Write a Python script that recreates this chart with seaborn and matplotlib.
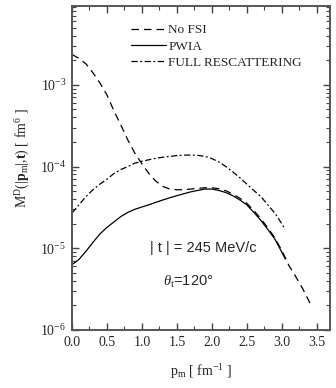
import numpy as np
import pandas as pd
import matplotlib
matplotlib.use('Agg')
import matplotlib.pyplot as plt
import seaborn as sns
from matplotlib.ticker import LogLocator, MultipleLocator

# momentum grid [fm^-1]
p_m = [0.0, 0.1, 0.2, 0.3, 0.4, 0.5, 0.6, 0.7, 0.8, 0.9, 1.0, 1.1, 1.2, 1.3,
       1.4, 1.5, 1.6, 1.7, 1.8, 1.9, 2.0, 2.1, 2.2, 2.3, 2.4, 2.5, 2.6, 2.7,
       2.8, 2.9, 3.0, 3.05]
p_m_nofsi_tail = [3.1, 3.2, 3.3, 3.42]

no_fsi = [2.35e-3, 2.1e-3, 1.8e-3, 1.4e-3, 1.05e-3, 7.5e-4, 4.8e-4, 3.2e-4,
          2.1e-4, 1.45e-4, 1.08e-4, 8.2e-5, 6.6e-5, 5.7e-5, 5.3e-5, 5.2e-5,
          5.2e-5, 5.3e-5, 5.4e-5, 5.5e-5, 5.5e-5, 5.35e-5, 5.05e-5, 4.6e-5,
          4.1e-5, 3.55e-5, 2.9e-5, 2.3e-5, 1.78e-5, 1.35e-5, 9.4e-6, 7.7e-6]
no_fsi_tail = [6.2e-6, 4.5e-6, 3.2e-6, 2.0e-6]

pwia = [6.3e-6, 7.3e-6, 9.2e-6, 1.18e-5, 1.5e-5, 1.8e-5, 2.1e-5, 2.45e-5,
        2.75e-5, 3.0e-5, 3.2e-5, 3.4e-5, 3.65e-5, 3.9e-5, 4.15e-5, 4.4e-5,
        4.65e-5, 4.9e-5, 5.1e-5, 5.3e-5, 5.3e-5, 5.1e-5, 4.8e-5, 4.4e-5,
        3.9e-5, 3.4e-5, 2.75e-5, 2.2e-5, 1.7e-5, 1.3e-5, 9.0e-6, 7.4e-6]

full_resc = [2.7e-5, 3.4e-5, 4.3e-5, 5.2e-5, 6.1e-5, 7.0e-5, 8.2e-5, 9.2e-5,
             1.0e-4, 1.1e-4, 1.16e-4, 1.21e-4, 1.26e-4, 1.3e-4, 1.33e-4,
             1.36e-4, 1.38e-4, 1.38e-4, 1.37e-4, 1.33e-4, 1.25e-4, 1.14e-4,
             1.0e-4, 8.6e-5, 7.3e-5, 6.1e-5, 5.1e-5, 4.3e-5, 3.4e-5, 2.7e-5,
             2.0e-5, 1.7e-5]

sns.set_style('ticks')
plt.rcParams['font.family'] = ['Liberation Serif', 'DejaVu Serif']
plt.rcParams['mathtext.fontset'] = 'custom'
plt.rcParams['mathtext.rm'] = 'Liberation Serif'
plt.rcParams['mathtext.it'] = 'Liberation Serif:italic'
plt.rcParams['mathtext.bf'] = 'Liberation Serif:bold'

fig = plt.figure(figsize=(3.36, 3.88), dpi=100)
ax = fig.add_axes([72 / 336, 58 / 388, 258 / 336, 324 / 388])

x_nofsi = p_m + p_m_nofsi_tail
y_nofsi = no_fsi + no_fsi_tail
sns.lineplot(x=x_nofsi, y=y_nofsi, ax=ax, color='black', lw=0.9,
             label='No FSI', sort=False)
sns.lineplot(x=p_m, y=pwia, ax=ax, color='black', lw=0.9,
             label='PWIA', sort=False)
sns.lineplot(x=p_m, y=full_resc, ax=ax, color='black', lw=0.9,
             label='FULL RESCATTERING', sort=False)
ax.lines[0].set_dashes([6, 4])
ax.lines[2].set_dashes([5, 2, 1.5, 2])

ax.set_yscale('log')
ax.set_xlim(0, 3.69)
ax.set_ylim(1e-6, 9.2e-3)
ax.xaxis.set_major_locator(MultipleLocator(0.5))
ax.xaxis.set_minor_locator(MultipleLocator(0.25))
ax.xaxis.set_major_formatter(matplotlib.ticker.FormatStrFormatter('%.1f'))
ax.yaxis.set_major_locator(LogLocator(base=10))
ax.yaxis.set_minor_locator(LogLocator(base=10, subs=np.arange(2, 10)))
ax.yaxis.set_minor_formatter(matplotlib.ticker.NullFormatter())

ax.tick_params(which='both', direction='in', top=True, right=True,
               labelsize=10, color='#444444', pad=4)
ax.tick_params(which='major', length=5, width=1)
ax.tick_params(which='minor', length=3, width=0.8)
for s in ax.spines.values():
    s.set_linewidth(1.4)
    s.set_color('#555555')

ax.set_xlabel(r'p$_{\rm m}$ [ fm$^{-1}$ ]', fontsize=10, labelpad=10)
ax.set_ylabel(r'M$^{\rm D}$(|$\mathbf{p}_{\rm m}$|,$\mathbf{t}$) [ fm$^{6}$ ]',
              fontsize=10)
ax.yaxis.set_label_coords(-0.155, 0.53)

ax.legend(loc='upper left', bbox_to_anchor=(0.21, 0.96), frameon=False,
          fontsize=9.5, handlelength=2.6, handletextpad=0.2,
          labelspacing=0.3, borderaxespad=0)

ax.text(0.508, 0.253, '| t | = 245 MeV/c', transform=ax.transAxes,
        ha='center', va='center', fontsize=10.5, family='Liberation Sans')
ax.text(0.45, 0.148, r'$\theta_{\rm t}$=120°', transform=ax.transAxes,
        ha='center', va='center', fontsize=10.5, family='Liberation Sans')

fig.savefig('out.png', dpi=100)
